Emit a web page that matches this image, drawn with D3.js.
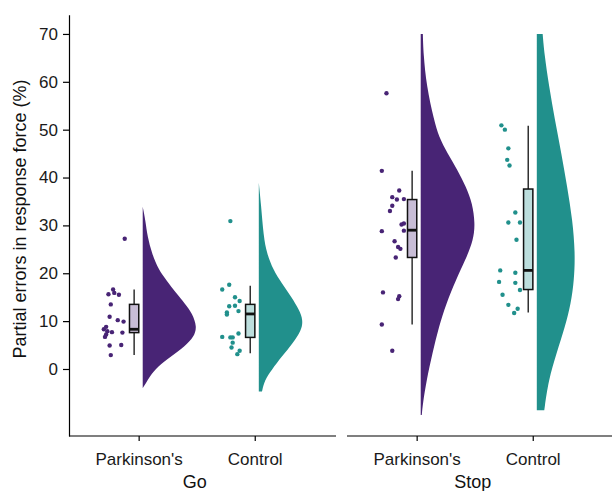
<!DOCTYPE html>
<html>
<head>
<meta charset="utf-8">
<script src="https://cdn.jsdelivr.net/npm/d3@7/dist/d3.min.js"></script>
<style>
  body { margin: 0; background: #fff; }
  svg { display: block; font-family: "Liberation Sans", Arial, sans-serif; }
</style>
</head>
<body>
<script>
// facets, groups, ticks
let facets = ["Go", "Stop"];
let groups = ["Parkinson's", "Control"];
let yTicks = [0, 10, 20, 30, 40, 50, 60, 70];
let groupColors = ["#482475", "#21908C"];

// individual participants (% partial errors) and their jitter (category units)
let goParkinsons = [27.2, 16.6, 15.6, 15.9, 15.5, 13.5, 10.9, 10.2, 9.9, 8.8, 8.3, 7.9, 7.7, 7.6, 6.7, 7.2, 4.9, 5.0, 2.9];
let goParkinsonsJitter = [-0.12, -0.22, -0.26, -0.21, -0.17, -0.24, -0.25, -0.18, -0.13, -0.28, -0.30, -0.27, -0.23, -0.14, -0.29, -0.28, -0.25, -0.15, -0.24];

let goControl = [30.9, 17.6, 16.6, 15.0, 14.2, 13.1, 13.2, 12.1, 11.8, 11.4, 6.7, 6.6, 6.6, 7.4, 5.5, 4.5, 3.8, 3.1];
let goControlJitter = [-0.21, -0.22, -0.28, -0.17, -0.13, -0.22, -0.17, -0.14, -0.24, -0.24, -0.28, -0.21, -0.19, -0.14, -0.19, -0.20, -0.13, -0.15];

let stopParkinsons = [57.6, 41.4, 37.3, 35.9, 35.4, 35.5, 34.1, 33.0, 30.4, 30.2, 28.8, 28.9, 26.7, 25.5, 25.1, 23.3, 16.0, 15.2, 14.6, 9.3, 3.8];
let stopParkinsonsJitter = [-0.26, -0.30, -0.15, -0.21, -0.17, -0.11, -0.21, -0.23, -0.11, -0.13, -0.30, -0.11, -0.19, -0.16, -0.14, -0.18, -0.29, -0.15, -0.16, -0.30, -0.21];

let stopControl = [50.9, 50.0, 46.1, 43.7, 42.5, 32.7, 30.6, 30.6, 27.0, 20.6, 20.1, 18.2, 18.0, 16.5, 15.5, 13.4, 12.6, 11.7];
let stopControlJitter = [-0.27, -0.24, -0.21, -0.22, -0.20, -0.15, -0.21, -0.11, -0.14, -0.28, -0.15, -0.29, -0.15, -0.11, -0.26, -0.21, -0.13, -0.16];

// box stats: [lower whisker, q1, median, q3, upper whisker]
let goParkinsonsBox = [2.9, 7.6, 8.3, 13.5, 16.6];
let goControlBox = [3.3, 6.6, 11.5, 13.5, 17.4];
let stopParkinsonsBox = [9.3, 23.3, 29.0, 35.4, 41.4];
let stopControlBox = [11.8, 16.6, 20.6, 37.6, 50.8];

// half-violin profiles: [value, relative density]
let goParkinsonsViolin = [[33.9, 0], [31.1, .05], [27.6, .09], [24.2, .17], [20.7, .3], [18.6, .44], [15.8, .63], [13.7, .79], [11.6, .93], [8.8, 1.02], [6.7, .96], [4.7, .79], [2.6, .53], [0.5, .28], [-1.6, .13], [-3, .06], [-4, 0]];
let goControlViolin = [[38.9, 0], [34.6, .04], [27.6, .09], [24.2, .15], [20.7, .27], [17.9, .43], [15.1, .61], [12.3, .76], [10.2, .83], [8.1, .8], [5.4, .64], [2.6, .43], [-0.2, .24], [-2.3, .11], [-4.7, .06]];
let stopParkinsonsViolin = [[70, .04], [66, .05], [59, .11], [52, .25], [48.5, .34], [45.1, .5], [41.6, .69], [38.1, .85], [34.6, .97], [30.4, 1.02], [27, .99], [22.8, .84], [18.6, .66], [13.7, .48], [8.8, .34], [3.3, .22], [-2.3, .11], [-7.2, .04], [-9.6, .02]];
let stopControlViolin = [[70, .11], [66, .14], [59, .23], [52, .34], [45.1, .46], [38.1, .57], [31.1, .67], [24.2, .72], [18.6, .7], [13.7, .64], [8.8, .53], [3.3, .37], [-2.3, .22], [-8.6, .14]];

let series = [
    {facet: 0, group: 0, values: goParkinsons, jitter: goParkinsonsJitter, box: goParkinsonsBox, violin: goParkinsonsViolin},
    {facet: 0, group: 1, values: goControl, jitter: goControlJitter, box: goControlBox, violin: goControlViolin},
    {facet: 1, group: 0, values: stopParkinsons, jitter: stopParkinsonsJitter, box: stopParkinsonsBox, violin: stopParkinsonsViolin},
    {facet: 1, group: 1, values: stopControl, jitter: stopControlJitter, box: stopControlBox, violin: stopControlViolin}
];

let svgWidth = 612;
let svgHeight = 491;

let panelTop = 14.8;
let panelBottom = 436;
let panels = [[69, 336], [347, 614]];

let boxNudge = -0.039;
let boxHalf = 0.04;
let violinNudge = 0.035;

let svg = d3.select('body')
    .append("svg")
    .attr("width", svgWidth)
    .attr("height", svgHeight);

let yScale = d3.scaleLinear()
    .domain([-14, 74])
    .range([panelBottom, panelTop]);

let widthScale = d3.scaleLinear()
    .domain([0, 1])
    .range([0, 53.3]);

let xScales = panels.map(p => d3.scaleLinear().domain([0.4, 2.7]).range(p));

// violins, points, boxes
series.forEach(function(s) {
    let x = xScales[s.facet];
    let color = groupColors[s.group];
    let cx = s.group + 1;
    let base = x(cx + violinNudge);

    let area = d3.area()
        .curve(d3.curveBasis)
        .y(d => yScale(d[0]))
        .x0(base)
        .x1(d => base + widthScale(d[1]));

    svg.append("path")
        .datum(s.violin)
        .attr("d", area)
        .attr("fill", color);

    svg.append("g")
        .selectAll("circle")
        .data(s.values)
        .join("circle")
        .attr("cx", (d, i) => x(cx + s.jitter[i]))
        .attr("cy", d => yScale(d))
        .attr("r", 2.2)
        .attr("fill", color);

    let bx = x(cx + boxNudge);
    let b = s.box;
    let g = svg.append("g");
    g.append("line")
        .attr("x1", bx).attr("x2", bx)
        .attr("y1", yScale(b[4])).attr("y2", yScale(b[0]))
        .attr("stroke", "#111").attr("stroke-width", 1.3);
    g.append("rect")
        .attr("x", x(cx + boxNudge - boxHalf))
        .attr("width", x(cx + boxNudge + boxHalf) - x(cx + boxNudge - boxHalf))
        .attr("y", yScale(b[3]))
        .attr("height", yScale(b[1]) - yScale(b[3]))
        .attr("fill", d3.interpolateRgb("#fff", color)(0.3))
        .attr("stroke", "#111").attr("stroke-width", 1.5);
    g.append("line")
        .attr("x1", x(cx + boxNudge - boxHalf)).attr("x2", x(cx + boxNudge + boxHalf))
        .attr("y1", yScale(b[2])).attr("y2", yScale(b[2]))
        .attr("stroke", "#111").attr("stroke-width", 2.8);
});

// Y Axis
let leftAxis = d3.axisLeft(yScale)
    .tickValues(yTicks)
    .tickSize(6)
    .tickPadding(5)
    .tickSizeOuter(0);

svg.append("g")
    .attr("transform", `translate(${panels[0][0]}, 0)`)
    .call(leftAxis);

// X Axes, one per facet
xScales.forEach(function(x, f) {
    let bottomAxis = d3.axisBottom(x)
        .tickValues([1, 2])
        .tickFormat(i => groups[i - 1])
        .tickSize(5)
        .tickPadding(12)
        .tickSizeOuter(0);

    let xAxis = svg.append("g")
        .attr("transform", `translate(0, ${panelBottom})`)
        .call(bottomAxis);
    xAxis.select(".domain").attr("d", `M${x.range()[0]},0H${x.range()[1]}`);

    svg.append("text")
        .attr("x", (x(1) + x(2)) / 2 - 2)
        .attr("y", 488)
        .attr("text-anchor", "middle")
        .attr("font-size", 18)
        .attr("fill", "#111")
        .text(facets[f]);
});

svg.selectAll(".domain, .tick line")
    .attr("stroke", "#000")
    .attr("stroke-width", 1.2);
svg.selectAll(".tick text")
    .attr("font-size", 17)
    .attr("font-family", "Liberation Sans, Arial, sans-serif")
    .attr("fill", "#1a1a1a");

svg.append("text")
    .attr("transform", "translate(26, 219) rotate(-90)")
    .attr("text-anchor", "middle")
    .attr("font-size", 18)
    .attr("fill", "#111")
    .text("Partial errors in response force (%)");
</script>
</body>
</html>
